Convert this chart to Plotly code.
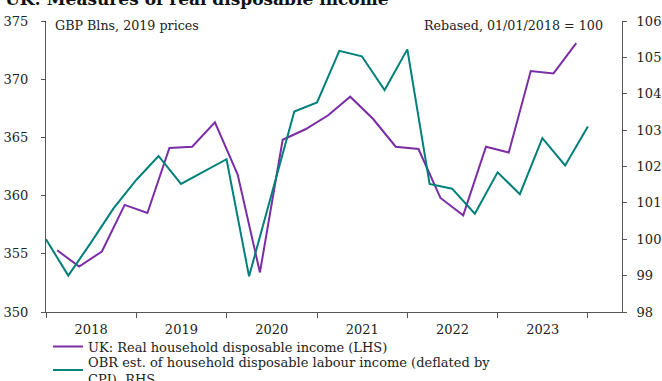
import plotly.graph_objects as go

# Real household disposable income (LHS), GBP bn 2019 prices, mid-quarter dates
rhdi_dates = [
    "2018-02-15", "2018-05-15", "2018-08-15", "2018-11-15",
    "2019-02-15", "2019-05-15", "2019-08-15", "2019-11-15",
    "2020-02-15", "2020-05-15", "2020-08-15", "2020-11-15",
    "2021-02-15", "2021-05-15", "2021-08-15", "2021-11-15",
    "2022-02-15", "2022-05-15", "2022-08-15", "2022-11-15",
    "2023-02-15", "2023-05-15", "2023-08-15", "2023-11-15",
]
rhdi_values = [
    355.3, 353.9, 355.2, 359.2,
    358.5, 364.1, 364.2, 366.3,
    361.8, 353.4, 364.8, 365.7,
    366.9, 368.5, 366.6, 364.2,
    364.0, 359.8, 358.3, 364.2,
    363.7, 370.7, 370.5, 373.1,
]

# OBR est. household disposable labour income (RHS), rebased 01/01/2018 = 100
obr_dates = [
    "2018-01-01", "2018-04-01", "2018-07-01", "2018-10-01",
    "2019-01-01", "2019-04-01", "2019-07-01", "2019-10-01",
    "2020-01-01", "2020-04-01", "2020-07-01", "2020-10-01",
    "2021-01-01", "2021-04-01", "2021-07-01", "2021-10-01",
    "2022-01-01", "2022-04-01", "2022-07-01", "2022-10-01",
    "2023-01-01", "2023-04-01", "2023-07-01", "2023-10-01",
    "2024-01-01",
]
obr_values = [
    100.0, 99.0, 99.9, 100.85,
    101.63, 102.29, 101.52, 101.86,
    102.2, 98.98, 101.25, 103.51,
    103.76, 105.18, 105.03, 104.1,
    105.22, 101.52, 101.39, 100.7,
    101.84, 101.24, 102.78, 102.03,
    103.1,
]

series_names = [
    "UK: Real household disposable income (LHS)",
    "OBR est. of household disposable labour income (deflated by<br>CPI), RHS",
]

PURPLE = "#7B2DA6"
TEAL = "#00807A"
FONT = "DejaVu Serif"
TXT = "#222222"
AX = "#555555"

fig = go.Figure()
fig.add_trace(go.Scatter(x=rhdi_dates, y=rhdi_values, mode="lines", name=series_names[0],
                         line=dict(color=PURPLE, width=2), yaxis="y", legend="legend"))
fig.add_trace(go.Scatter(x=obr_dates, y=obr_values, mode="lines", name=series_names[1],
                         line=dict(color=TEAL, width=2), yaxis="y2", legend="legend2"))

legend_style = dict(xanchor="left", yanchor="top",
                    font=dict(family=FONT, size=13, color=TXT),
                    bgcolor="rgba(0,0,0,0)", itemwidth=30)

fig.update_layout(
    width=662, height=381,
    margin=dict(l=46, r=40, t=21, b=69, autoexpand=False),
    paper_bgcolor="white", plot_bgcolor="white",
    font=dict(family=FONT, size=13, color=TXT),
    showlegend=True,
    legend=dict(x=0.0035, y=-0.0676, **legend_style),
    legend2=dict(x=0.0035, y=-0.1191, **legend_style),
    xaxis=dict(
        type="date", range=["2018-01-01", "2024-05-18"],
        tick0="2018-01-01", dtick="M12", tickformat="%Y", ticklabelmode="period",
        ticks="outside", ticklen=5, tickcolor=AX, showline=True, linecolor=AX, linewidth=1,
        showgrid=False, zeroline=False, tickfont=dict(size=13, color=TXT), automargin=False,
    ),
    yaxis=dict(
        range=[350, 375], dtick=5, ticks="outside", ticklen=4, tickcolor=AX,
        showline=True, linecolor=AX, linewidth=1, showgrid=False, zeroline=False,
        tickfont=dict(size=13, color=TXT), ticklabelstandoff=10, automargin=False,
    ),
    yaxis2=dict(
        range=[98, 106], dtick=1, overlaying="y", side="right", ticks="outside", ticklen=4,
        tickcolor=AX, showline=True, linecolor=AX, linewidth=1, showgrid=False, zeroline=False,
        tickfont=dict(size=13, color=TXT), ticklabelstandoff=7, automargin=False,
    ),
    annotations=[
        dict(text="<b>UK: Measures of real disposable income</b>", xref="paper", yref="paper",
             x=-0.075, y=1.036, xanchor="left", yanchor="bottom", showarrow=False,
             font=dict(family=FONT, size=17, color="#111111")),
        dict(text="GBP Blns, 2019 prices", xref="paper", yref="paper",
             x=0.012, y=0.983, xanchor="left", yanchor="middle", showarrow=False,
             font=dict(family=FONT, size=12.7, color=TXT)),
        dict(text="Rebased, 01/01/2018 = 100", xref="paper", yref="paper",
             x=0.97, y=0.983, xanchor="right", yanchor="middle", showarrow=False,
             font=dict(family=FONT, size=12.7, color=TXT)),
    ],
)

fig.write_html("out.html", config={"displayModeBar": False},
               post_script="document.body.style.margin='0px';")
